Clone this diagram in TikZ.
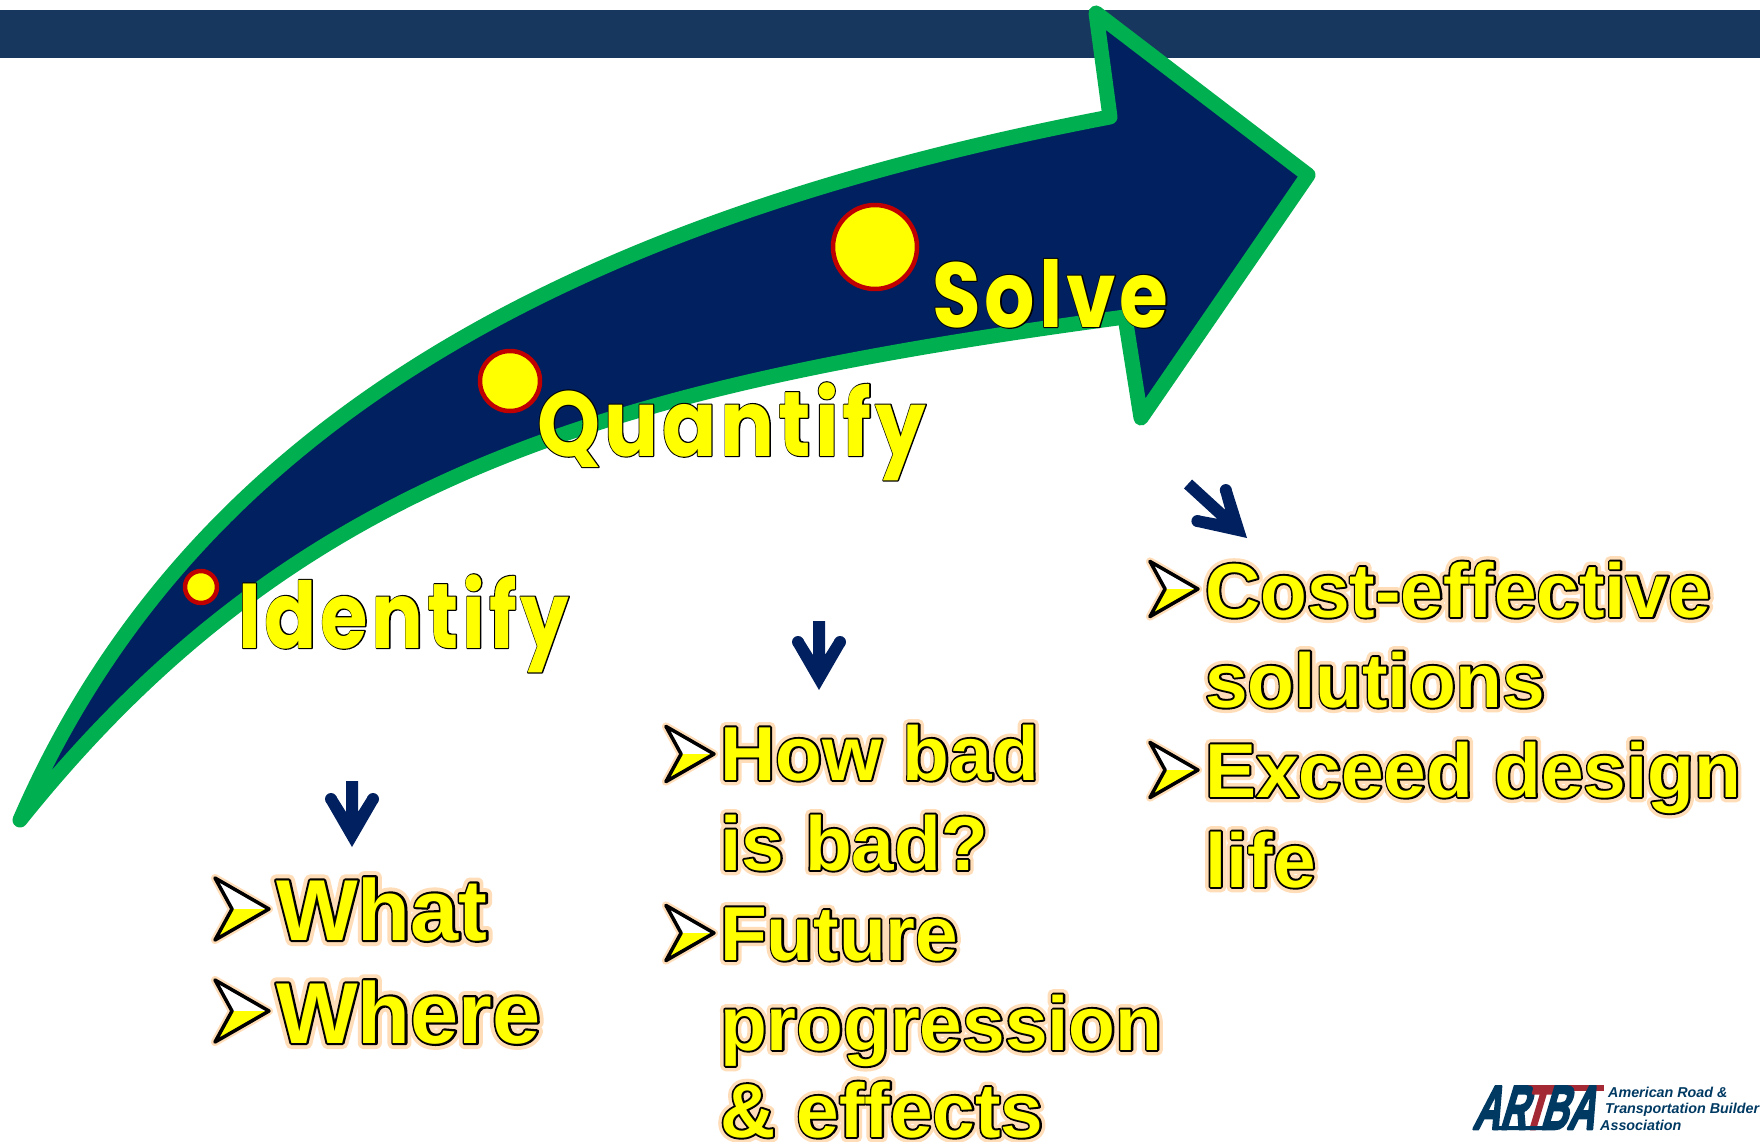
\documentclass[tikz,border=0pt]{standalone}
\usepackage{fontspec}
\setmainfont{Liberation Sans}
\newfontfamily\bodyfill{Liberation Sans}
\newfontfamily\bodyline{Liberation Sans}[BoldFeatures={FakeBold=5}]
\newfontfamily\bodyglow{Liberation Sans}[BoldFeatures={FakeBold=14}]
\newfontfamily\headfill{Poppins}[BoldFeatures={LetterSpace=5}]
\newfontfamily\headline{Poppins}[BoldFeatures={FakeBold=2.5,LetterSpace=5}]
\newfontfamily\logofont{Liberation Sans}
\newfontfamily\logoheavy{Liberation Sans}[BoldFeatures={FakeBold=4,FakeSlant=.5}]
\definecolor{barblue}{HTML}{17375E}
\definecolor{navy}{HTML}{002060}
\definecolor{arrowgreen}{HTML}{00B050}
\definecolor{dotred}{HTML}{C00000}
\definecolor{txtyellow}{HTML}{FFFF00}
\definecolor{glowc}{HTML}{FFDDB8}
\definecolor{logoblue}{HTML}{003A63}
\definecolor{logored}{HTML}{A32A35}
\newcommand\bodytxt[2]{\fontsize{#1}{#1}\selectfont\bfseries
  \makebox[0pt][l]{\bodyglow\bfseries\color{glowc}#2}%
  \makebox[0pt][l]{\bodyline\bfseries\color{black}#2}%
  {\bodyfill\bfseries\color{txtyellow}#2}}
\newcommand\headtxt[2]{\fontsize{92}{92}\selectfont\bfseries
  \scalebox{#1}[1]{\makebox[0pt][l]{\headline\bfseries\color{black}#2}%
  {\headfill\bfseries\color{txtyellow}#2}}}
\tikzset{
  bodyA/.style={anchor=base west,inner sep=0pt},
  headA/.style={anchor=base west,inner sep=0pt},
  logoA/.style={anchor=base west,inner sep=0pt,logoblue},
  dot/.style={circle,draw=dotred,fill=txtyellow,line width=4.5pt,inner sep=0pt},
  bulletarrow/.pic={
    \draw[glowc,line width=8pt,line join=round,fill=glowc] (-54,-31)--(0,0)--(-54,31)--(-37,0)--cycle;
    \fill[white] (-54,-31)--(0,0)--(-37,0)--cycle;
    \fill[txtyellow] (-54,31)--(0,0)--(-37,0)--cycle;
    \draw[black,line width=3.5pt,line join=round] (-54,-31)--(0,0)--(-54,31)--(-37,0)--cycle;
  },
  pics/downarrow/.style={code={
    \fill[navy] (0,0)--(26,-45)--(16,-51)--(6,-35)--(6,-#1)--(-6,-#1)--(-6,-35)--(-16,-51)--(-26,-45)--cycle;
    \fill[navy] (21,-48) circle (6) (-21,-48) circle (6);
  }}
}
\begin{document}
\begin{tikzpicture}[x=1pt,y=-1pt,line join=round]
\pgfsetroundjoin
\useasboundingbox (0,0) rectangle (1760,1142);
\fill[white] (0,0) rectangle (1760,1142);
\fill[barblue] (0,10) rectangle (1760,58);
% main arrow
\draw[arrowgreen,fill=navy,line width=15pt,line join=round]
  (20,820) .. controls (185,440) and (545,225) .. (1110,117)
  -- (1096,13) -- (1308,175) -- (1141,418) -- (1125,317)
  .. controls (620,385) and (300,470) .. (20,820) -- cycle;
\node[dot,minimum size=84pt] (d3) at (875,247) {};
\node[dot,minimum size=60pt] (d2) at (510,381) {};
\node[dot,minimum size=32pt] (d1) at (201,587) {};
\node[headA] (identify) at (238,648) {\headtxt{.835}{Identify}};
\node[headA] (quantify) at (537,456) {\headtxt{.87}{Quantify}};
\node[headA] (solve) at (932,327) {\headtxt{.86}{Solve}};
% small arrows
\pic at (352,847) {downarrow={66}};
\pic at (819,690) {downarrow={69}};
\pic[rotate=47.5] at (1247,538) {downarrow={80}};
% column 1
\pic at (269,909) {bulletarrow};
\pic at (269,1011) {bulletarrow};
\node[bodyA] (what) at (276,940) {\bodytxt{86.5}{What}};
\node[bodyA] (where) at (276,1043) {\bodytxt{86.5}{Where}};
% column 2
\pic[scale=.89] at (714,754) {bulletarrow};
\pic[scale=.89] at (714,933) {bulletarrow};
\node[bodyA] (how) at (720,780) {\bodytxt{76.5}{How bad}};
\node[bodyA] (isbad) at (720,870) {\bodytxt{76.5}{is bad?}};
\node[bodyA] (future) at (720,960) {\bodytxt{76.5}{Future}};
\node[bodyA] (prog) at (720,1050) {\bodytxt{76.5}{progression}};
\node[bodyA] (eff) at (720,1137) {\bodytxt{76.5}{\& effects}};
% column 3
\pic[scale=.89] at (1198,589) {bulletarrow};
\pic[scale=.89] at (1198,770) {bulletarrow};
\node[bodyA] (cost) at (1205,617) {\bodytxt{76.5}{Cost-effective}};
\node[bodyA] (sol) at (1205,707) {\bodytxt{76.5}{solutions}};
\node[bodyA] (exc) at (1205,797) {\bodytxt{76.5}{Exceed design}};
\node[bodyA] (life) at (1205,887) {\bodytxt{76.5}{life}};
% logo
\fill[logored] (1520,1085) rectangle (1604,1091);
\node[anchor=base west,inner sep=0pt] (artba) at (1472,1129) {\logoheavy\bfseries\fontsize{62}{62}\selectfont\scalebox{.6}[1]{\color{logoblue}AR\kern-.12em\color{logored}T\kern-.12em\color{logoblue}BA}};
\fill[logoblue] (1495,1126) -- (1494,1130) -- (1546,1130) -- (1547,1126) -- cycle;
\node[logoA] (l1) at (1608,1097) {\logofont\bfseries\itshape\fontsize{14.3}{14.3}\selectfont American Road \&};
\node[logoA] (l2) at (1605,1113) {\logofont\bfseries\itshape\fontsize{14.3}{14.3}\selectfont Transportation Builder};
\node[logoA] (l3) at (1600,1130) {\logofont\bfseries\itshape\fontsize{14.3}{14.3}\selectfont Association};
\end{tikzpicture}
\end{document}
